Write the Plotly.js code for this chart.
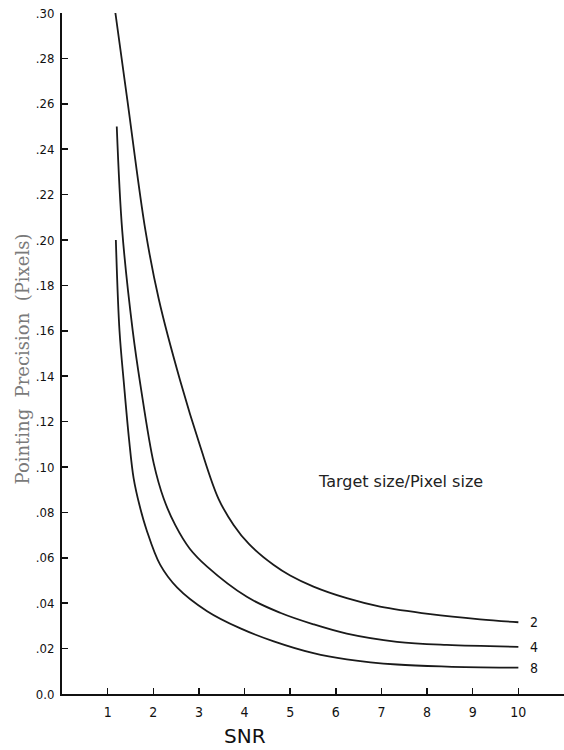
<!DOCTYPE html>
<html>
<head>
<meta charset="utf-8">
<script src="https://cdn.plot.ly/plotly-3.0.1.min.js"></script>
<style>
html,body{margin:0;padding:0;background:#fff;}
#chart{width:564px;height:750px;}
</style>
</head>
<body>
<div id="chart"></div>
<script>
// Target size / pixel size = 2
const snr2 = [1.17, 1.43, 1.83, 2.12, 2.59, 3.03, 3.43, 3.76, 4.10, 4.64, 5.00, 5.51, 6.24, 6.97, 8.07, 9.16, 10.0];
const prec2 = [0.300, 0.262, 0.204, 0.174, 0.138, 0.109, 0.0860, 0.0745, 0.0660, 0.0568, 0.0522, 0.0473, 0.0422, 0.0385, 0.0352, 0.0329, 0.0316];
// = 4
const snr4 = [1.20, 1.32, 1.55, 1.72, 2.01, 2.23, 2.48, 2.80, 3.18, 4.05, 4.78, 5.51, 6.24, 7.34, 8.43, 10.0];
const prec4 = [0.250, 0.204, 0.160, 0.136, 0.1016, 0.0860, 0.0745, 0.0640, 0.0561, 0.0428, 0.0358, 0.0307, 0.0266, 0.0230, 0.0216, 0.0208];
// = 8
const snr8 = [1.18, 1.26, 1.36, 1.47, 1.57, 1.70, 1.85, 2.15, 2.52, 3.18, 3.91, 4.64, 5.51, 6.24, 7.34, 8.43, 10.0];
const prec8 = [0.200, 0.160, 0.136, 0.112, 0.095, 0.083, 0.0725, 0.0570, 0.0470, 0.0365, 0.0289, 0.0232, 0.0180, 0.0153, 0.0130, 0.0121, 0.0116];

const seriesNames = ["2", "4", "8"];
const xTicks = [1, 2, 3, 4, 5, 6, 7, 8, 9, 10];
const yTickVals = [0, 0.02, 0.04, 0.06, 0.08, 0.10, 0.12, 0.14, 0.16, 0.18, 0.20, 0.22, 0.24, 0.26, 0.28, 0.30];
const yTickText = ["0.0", ".02", ".04", ".06", ".08", ".10", ".12", ".14", ".16", ".18", ".20", ".22", ".24", ".26", ".28", ".30"];

const sansFont = "DejaVu Sans Condensed, DejaVu Sans, sans-serif";
const lineStyle = {color: "#1a1a1a", width: 1.8, shape: "spline", smoothing: 1.0};

const xs = [snr2, snr4, snr8];
const ys = [prec2, prec4, prec8];
const traces = xs.map((x, i) => ({
  x: x, y: ys[i], type: "scatter", mode: "lines", name: seriesNames[i],
  line: lineStyle, hoverinfo: "skip", showlegend: false
}));

const annotations = seriesNames.map((n, i) => ({
  x: xs[i][xs[i].length - 1], y: ys[i][ys[i].length - 1],
  xref: "x", yref: "y", text: n, showarrow: false,
  xanchor: "left", yanchor: "middle", xshift: 10,
  font: {family: sansFont, size: 14, color: "#111"}
}));
annotations.push({
  x: 7.41, y: 0.0934, xref: "x", yref: "y", text: "Target size/Pixel size",
  showarrow: false, xanchor: "center", yanchor: "middle",
  font: {family: "DejaVu Sans, sans-serif", size: 16, color: "#222"}
});
annotations.push({
  x: 4.02, y: 0, xref: "x", yref: "paper", text: "SNR",
  showarrow: false, xanchor: "center", yanchor: "middle", yshift: -42,
  font: {family: "DejaVu Sans, sans-serif", size: 20, color: "#111"}
});
annotations.push({
  x: 0, y: 0.5, xref: "paper", yref: "paper",
  text: "Pointing\u00a0\u00a0Precision\u00a0\u00a0(Pixels)",
  showarrow: false, xanchor: "center", yanchor: "middle", xshift: -40, yshift: -6, textangle: -90,
  font: {family: "DejaVu Serif, Liberation Serif, serif", size: 18, color: "#7a7a7a"}
});

const layout = {
  width: 564, height: 750,
  margin: {l: 62, r: 0, t: 13, b: 56},
  paper_bgcolor: "#fff", plot_bgcolor: "#fff",
  xaxis: {
    range: [0, 11], showgrid: false, zeroline: false,
    showline: true, linecolor: "#111", linewidth: 2,
    ticks: "inside", ticklen: 6, tickwidth: 1.5, tickcolor: "#111",
    tickvals: xTicks, ticktext: xTicks.map(String), ticklabelstandoff: 4,
    tickfont: {family: sansFont, size: 14, color: "#111"}
  },
  yaxis: {
    range: [0, 0.30], showgrid: false, zeroline: false,
    showline: true, linecolor: "#111", linewidth: 2,
    ticks: "inside", ticklen: 6, tickwidth: 1.5, tickcolor: "#111",
    tickvals: yTickVals, ticktext: yTickText, ticklabelstandoff: 3,
    tickfont: {family: sansFont, size: 13, color: "#111"}
  },
  annotations: annotations
};

Plotly.newPlot("chart", traces, layout, {staticPlot: true, displayModeBar: false});
</script>
</body>
</html>
